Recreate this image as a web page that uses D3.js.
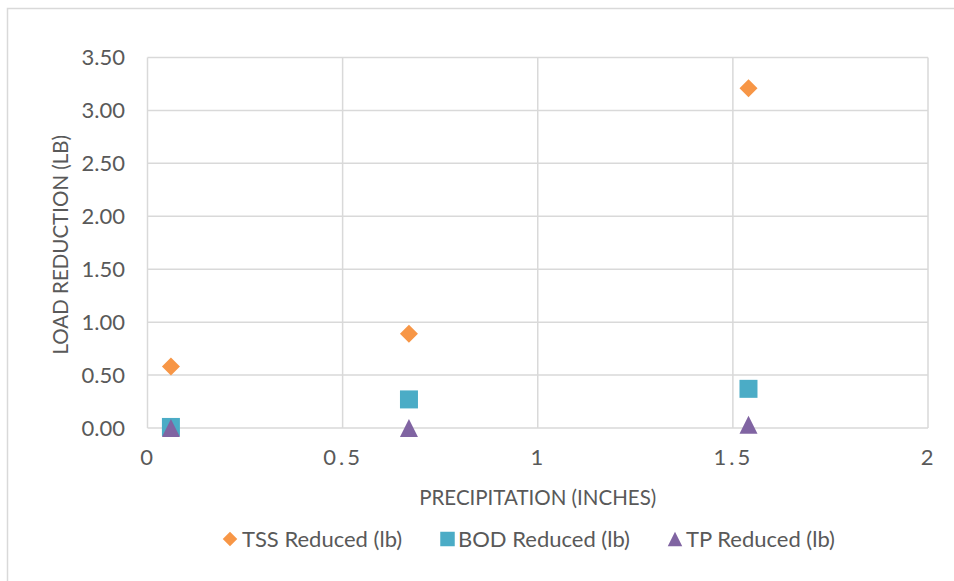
<!DOCTYPE html>
<html>
<head>
<meta charset="utf-8">
<script src="https://cdn.jsdelivr.net/npm/d3@7"></script>
<style>
  html, body { margin: 0; padding: 0; background: #fff; }
  svg { display: block; font-family: Lato, "Open Sans", sans-serif; }
</style>
</head>
<body>
<svg id="chart" width="954" height="581"></svg>
<script>
// Precipitation (inches) for each monitored storm event
const precipitation = [0.06, 0.67, 1.54];

// Pollutant load reductions (lb) per event
const tssReduced = [0.58, 0.89, 3.21];
const bodReduced = [0.01, 0.27, 0.37];
const tpReduced  = [0.00, 0.00, 0.03];

const xTicks = [0, 0.5, 1, 1.5, 2];
const yTicks = [0, 0.5, 1, 1.5, 2, 2.5, 3, 3.5];

const seriesNames = ["TSS Reduced (lb)", "BOD Reduced (lb)", "TP Reduced (lb)"];
const seriesColors = ["#F79646", "#4BACC6", "#8064A2"];

// Marker shapes whose "size" is the full width of the bounding box
const diamond = { draw(ctx, size) { const r = size / 2; ctx.moveTo(0, -r); ctx.lineTo(r, 0); ctx.lineTo(0, r); ctx.lineTo(-r, 0); ctx.closePath(); } };
const square = { draw(ctx, size) { const r = size / 2; ctx.rect(-r, -r, size, size); } };
const triangle = { draw(ctx, size) { const r = size / 2; ctx.moveTo(0, -r); ctx.lineTo(r, r); ctx.lineTo(-r, r); ctx.closePath(); } };
const seriesShapes = [diamond, square, triangle];
const seriesValues = [tssReduced, bodReduced, tpReduced];

const svg = d3.select("#chart");
const W = 954, H = 581;
const plot = { left: 147.5, right: 928, top: 57.5, bottom: 428 };
const textColor = "#595959";
const gridColor = "#D9D9D9";

// Outer chart frame
svg.append("rect")
  .attr("x", 7.5).attr("y", 8.5)
  .attr("width", W).attr("height", H)
  .attr("fill", "#fff")
  .attr("stroke", gridColor).attr("stroke-width", 1.5);

const x = d3.scaleLinear().domain([0, 2]).range([plot.left, plot.right]);
const y = d3.scaleLinear().domain([0, 3.5]).range([plot.bottom, plot.top]);

// Gridlines
const grid = svg.append("g").attr("stroke", gridColor).attr("stroke-width", 1.5);
grid.selectAll("line.h").data(yTicks).join("line")
  .attr("class", "h")
  .attr("x1", plot.left).attr("x2", plot.right)
  .attr("y1", d => y(d)).attr("y2", d => y(d));
grid.selectAll("line.v").data(xTicks).join("line")
  .attr("class", "v")
  .attr("y1", plot.top).attr("y2", plot.bottom)
  .attr("x1", d => x(d)).attr("x2", d => x(d));

// Y axis labels
const yAxis = d3.axisLeft(y).tickValues(yTicks).tickFormat(d3.format(".2f")).tickSize(0).tickPadding(0);
const gy = svg.append("g").attr("transform", `translate(${plot.left - 22.5},0)`).call(yAxis);
gy.select(".domain").remove();
gy.selectAll("text")
  .attr("fill", textColor)
  .attr("font-size", 22)
  .attr("font-family", "Lato, sans-serif");

// X axis labels
const xAxis = d3.axisBottom(x).tickValues(xTicks).tickFormat(d => String(d)).tickSize(0).tickPadding(0);
const gx = svg.append("g").attr("transform", `translate(0,${plot.bottom + 21})`).call(xAxis);
gx.select(".domain").remove();
gx.selectAll("text")
  .attr("fill", textColor)
  .attr("font-size", 22)
  .attr("letter-spacing", 3)
  .attr("font-family", "Lato, sans-serif");

// Axis titles
svg.append("text")
  .attr("x", (plot.left + plot.right) / 2)
  .attr("y", 505)
  .attr("text-anchor", "middle")
  .attr("fill", textColor)
  .attr("font-size", 20.5)
  .text("PRECIPITATION (INCHES)");

svg.append("text")
  .attr("transform", `translate(68,${(plot.top + plot.bottom) / 2 + 2}) rotate(-90)`)
  .attr("text-anchor", "middle")
  .attr("fill", textColor)
  .attr("font-size", 20.5)
  .text("LOAD REDUCTION (LB)");

// Data markers
const markerWidth = 18;
seriesValues.forEach((vals, i) => {
  svg.append("g").selectAll("path")
    .data(vals.map((v, j) => [precipitation[j], v]))
    .join("path")
    .attr("transform", d => `translate(${x(d[0])},${y(d[1])})`)
    .attr("d", d3.symbol().type(seriesShapes[i]).size(markerWidth))
    .attr("fill", seriesColors[i]);
});

// Legend
const legendItems = [
  { sx: 230, tx: 242 },
  { sx: 447.5, tx: 458 },
  { sx: 675, tx: 686 }
];
const legendY = 539;
const legendMarkerWidth = 14.5;
const legend = svg.append("g");
legendItems.forEach((it, i) => {
  legend.append("path")
    .attr("transform", `translate(${it.sx},${legendY})`)
    .attr("d", d3.symbol().type(seriesShapes[i]).size(legendMarkerWidth))
    .attr("fill", seriesColors[i]);
  legend.append("text")
    .attr("x", it.tx)
    .attr("y", legendY)
    .attr("dy", "0.35em")
    .attr("fill", textColor)
    .attr("font-size", 22)
    .text(seriesNames[i]);
});
</script>
</body>
</html>
